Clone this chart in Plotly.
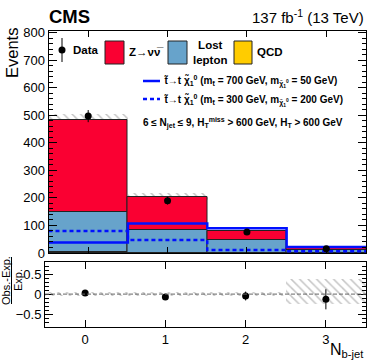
import plotly.graph_objects as go

# N_b-jet bins
bins = [0, 1, 2, 3]
bin_labels = ["0", "1", "2", "3"]

# stacked backgrounds (events)
qcd = [4, 1.5, 0.8, 0.3]
lost_lepton = [145, 82, 46, 11]
znunu = [335, 121, 33, 6]
bkg_unc = [20, 12, 5, 6]

# observed data
data = [497, 190, 76, 15]
data_err = [22, 14, 9, 4]

# signal models
sig_700_50 = [38, 107, 90, 22]
sig_300_200 = [80, 47, 11, 6]

# ratio panel
ratio = [0.027, -0.07, -0.048, -0.13]
ratio_err = [0.045, 0.07, 0.11, 0.25]
ratio_band_up = [0.04, 0.04, 0.05, 0.37]
ratio_band_dn = [0.04, 0.04, 0.05, 0.25]

RED = "#FA0032"
BLUE = "#67A3CB"
ORANGE = "#FFCC00"
FONT = "Liberation Sans"

# pixel helpers (plot area: x 45..366, y 31..327)
def fx(p):
    return (p - 45) / 321

def fy(p):
    return (327 - p) / 296

ll_base = qcd
z_base = [a + b for a, b in zip(qcd, lost_lepton)]
total = [a + b for a, b in zip(z_base, znunu)]
edges = [b - 0.5 for b in bins] + [bins[-1] + 0.5]

hatch = dict(shape="\\", fgcolor="#8a8a8a", bgcolor="rgba(0,0,0,0)", size=6, solidity=0.25)

fig = go.Figure()

# background uncertainty band
fig.add_trace(go.Bar(
    x=bins, base=[t - u for t, u in zip(total, bkg_unc)], y=[2 * u for u in bkg_unc],
    width=1, marker=dict(color="rgba(0,0,0,0)", line=dict(width=0), pattern=hatch),
    xaxis="x", yaxis="y", showlegend=False,
))
# stack
for vals, base, col in [(qcd, [0] * 4, ORANGE), (lost_lepton, ll_base, BLUE), (znunu, z_base, RED)]:
    fig.add_trace(go.Bar(
        x=bins, y=vals, base=base, width=1,
        marker=dict(color=col, line=dict(color="#222", width=1)),
        xaxis="x", yaxis="y", showlegend=False,
    ))

# signals as step lines
fig.add_trace(go.Scatter(
    x=edges, y=sig_700_50 + [sig_700_50[-1]], mode="lines", line_shape="hv",
    line=dict(color="#0010FF", width=2.5), xaxis="x", yaxis="y", showlegend=False,
))
fig.add_trace(go.Scatter(
    x=edges, y=sig_300_200 + [sig_300_200[-1]], mode="lines", line_shape="hv",
    line=dict(color="#0010FF", width=2.5, dash="4px,3px"), xaxis="x", yaxis="y", showlegend=False,
))

# data
fig.add_trace(go.Scatter(
    x=bins, y=data, mode="markers",
    marker=dict(color="black", size=7),
    error_y=dict(type="data", array=data_err, color="black", thickness=1, width=0),
    xaxis="x", yaxis="y", showlegend=False,
))

# ratio band
fig.add_trace(go.Bar(
    x=bins, base=[-d for d in ratio_band_dn], y=[u + d for u, d in zip(ratio_band_up, ratio_band_dn)],
    width=1, marker=dict(color="rgba(0,0,0,0)", line=dict(width=0), pattern=hatch),
    xaxis="x2", yaxis="y2", showlegend=False,
))
fig.add_trace(go.Scatter(
    x=bins, y=ratio, mode="markers",
    marker=dict(color="black", size=7),
    error_y=dict(type="data", array=ratio_err, color="black", thickness=1, width=0),
    xaxis="x2", yaxis="y2", showlegend=False,
))

axis_common = dict(showline=True, linecolor="black", linewidth=1, mirror="allticks",
                   ticks="inside", tickcolor="black", showgrid=False, zeroline=False,
                   tickfont=dict(family=FONT, size=13, color="black"))

fig.update_layout(
    width=374, height=363,
    margin=dict(l=45, r=8, t=31, b=36),
    paper_bgcolor="white", plot_bgcolor="white",
    barmode="overlay", bargap=0,
    font=dict(family=FONT, color="black"),
    xaxis=dict(domain=[fx(48.5), 1], range=[-0.5, 3.5], anchor="y", tickvals=bins,
               showticklabels=False, ticklen=6, **axis_common),
    yaxis=dict(domain=[0.25, 1], range=[0, 806], anchor="x", dtick=100, ticklen=8,
               minor=dict(dtick=20, ticklen=4, ticks="inside", tickcolor="black"), **axis_common),
    xaxis2=dict(domain=[0, 1], range=[-0.5, 3.5], anchor="y2", tickvals=bins, ticktext=bin_labels,
                ticklen=7, **axis_common),
    yaxis2=dict(domain=[0, 0.2196], range=[-0.82, 0.8], anchor="x2",
                tickvals=[-0.5, 0, 0.5], ticktext=["\u22120.5", "0", "0.5"], ticklen=8,
                minor=dict(dtick=0.1, ticklen=4, ticks="inside", tickcolor="black"), **axis_common),
)

shapes = [
    dict(type="line", xref="x2", yref="y2", x0=-0.5, x1=3.5, y0=0, y1=0,
         line=dict(color="#666", width=1, dash="4px,2px")),
    # legend entries
    dict(type="line", xref="paper", yref="paper", x0=fx(62), x1=fx(62), y0=fy(38), y1=fy(62),
         line=dict(color="black", width=1)),
    dict(type="circle", xref="paper", yref="paper", x0=fx(58.5), x1=fx(65.5), y0=fy(46.5), y1=fy(53.5),
         fillcolor="black", line=dict(color="black", width=0)),
    dict(type="rect", xref="paper", yref="paper", x0=fx(105), x1=fx(124), y0=fy(41), y1=fy(64),
         fillcolor=RED, line=dict(color="#222", width=1)),
    dict(type="rect", xref="paper", yref="paper", x0=fx(168), x1=fx(187), y0=fy(41), y1=fy(64),
         fillcolor=BLUE, line=dict(color="#222", width=1)),
    dict(type="rect", xref="paper", yref="paper", x0=fx(234), x1=fx(252), y0=fy(41), y1=fy(64),
         fillcolor=ORANGE, line=dict(color="#222", width=1)),
    dict(type="line", xref="paper", yref="paper", x0=fx(143), x1=fx(160), y0=fy(81), y1=fy(81),
         line=dict(color="#0010FF", width=2.5)),
    dict(type="line", xref="paper", yref="paper", x0=fx(143), x1=fx(160), y0=fy(99), y1=fy(99),
         line=dict(color="#0010FF", width=2.5, dash="4px,3px")),
    # fraction bar of the ratio title
    dict(type="line", xref="paper", yref="paper", x0=fx(11.5), x1=fx(11.5), y0=fy(257), y1=fy(304),
         line=dict(color="black", width=1)),
]

def note(x, y, text, size, xanchor="left", bold=False, angle=0, yanchor="middle"):
    if bold:
        text = "<b>" + text + "</b>"
    return dict(xref="paper", yref="paper", x=fx(x), y=fy(y), text=text, showarrow=False,
                xanchor=xanchor, yanchor=yanchor, textangle=angle,
                font=dict(family=FONT, size=size, color="black"))

chi = "\u03c7\u0303"
stop = "t\u0303"
annotations = [
    note(47, 16, "CMS", 18.5, bold=True),
    note(366, 16, "137 fb<sup>-1</sup> (13 TeV)", 15, xanchor="right"),
    note(12, 53, "Events", 16.5, xanchor="center", angle=-90),
    note(366, 350, "N<sub>b-jet</sub>", 16, xanchor="right"),
    note(5.5, 280.5, "Obs.-Exp.", 11, xanchor="center", angle=-90),
    note(17.5, 280.5, "Exp.", 11, xanchor="center", angle=-90),
    note(71, 50, "Data", 11.5, bold=True),
    note(127, 52, "Z\u2192\u03bd\u03bd\u0305", 11.5, bold=True),
    note(191, 52, "Lost<br>lepton", 11.5, bold=True),
    note(255, 52, "QCD", 11.5, bold=True),
    note(162, 82, stop + "\u2192t " + chi + "<sub>1</sub><sup>0</sup> (m<sub>" + stop + "</sub> = 700 GeV, m<sub>"
         + chi + "<sub>1</sub><sup>0</sup></sub> = 50 GeV)", 10, bold=True),
    note(162, 100, stop + "\u2192t " + chi + "<sub>1</sub><sup>0</sup> (m<sub>" + stop + "</sub> = 300 GeV, m<sub>"
         + chi + "<sub>1</sub><sup>0</sup></sub> = 200 GeV)", 10, bold=True),
    note(141, 123, "6 \u2264 N<sub>jet</sub> \u2264 9, H<sub>T</sub><sup>miss</sup> > 600 GeV, H<sub>T</sub> > 600 GeV",
         10, bold=True),
]

fig.update_layout(shapes=shapes, annotations=annotations)
fig.write_html("out.html", config={"displayModeBar": False},
               post_script="document.body.style.margin='0';")
